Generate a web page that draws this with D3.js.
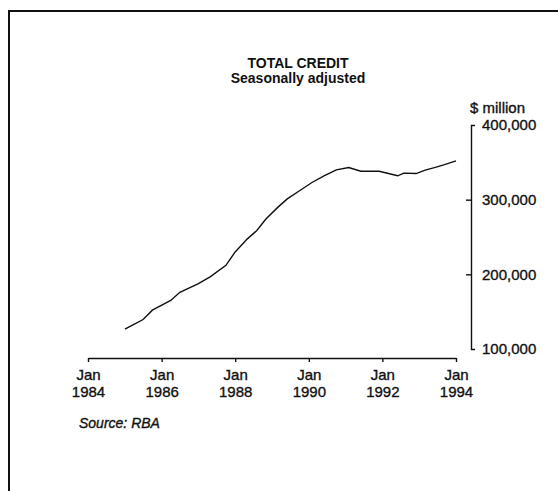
<!DOCTYPE html>
<html lang="en">
    <head>
        <meta charset="UTF-8"/>
        <title>Total Credit</title>
        <script src="https://d3js.org/d3.v7.min.js"></script>
        <style>
            body { margin: 0; background: #fff; }
            text { font-family: "Liberation Sans", Arial, sans-serif; fill: #111; }
            .heavy { stroke: #111; stroke-width: 0.35px; }
        </style>
    </head>

    <body>
        <script>
        var w = 558;
        var h = 491;

        // monthly readings, $ million
        var months = ["1985-01","1985-04","1985-07","1985-10","1986-04","1986-07","1987-01","1987-05",
                      "1987-10","1988-01","1988-05","1988-08","1988-11","1989-03","1989-06","1989-10",
                      "1990-02","1990-06","1990-10","1991-02","1991-06","1991-12","1992-04","1992-06",
                      "1992-08","1992-12","1993-03","1993-06","1993-09","1994-01"];
        var credit = [126700,133000,139500,152000,165000,176000,187500,197000,
                      212000,230000,247500,258500,274000,290000,301000,312000,
                      323000,332000,340000,343000,338000,338000,334000,332000,
                      335500,335000,339500,343000,346500,352000];

        var xTicks = ["1984-01","1986-01","1988-01","1990-01","1992-01","1994-01"];
        var yTicks = [100000, 200000, 300000, 400000];

        var parse = d3.timeParse("%Y-%m");
        var dataset = months.map(function(m, i) { return [parse(m), credit[i]]; });

        var xScale = d3.scaleTime()
                        .domain([parse("1984-01"), parse("1994-01")])
                        .range([88, 456]);

        var yScale = d3.scaleLinear()
                        .domain([100000, 400000])
                        .range([349, 125]);

        var svg = d3.select("body")
                    .append("svg")
                    .attr("width", w)
                    .attr("height", h);

        /* frame */
        svg.append("path")
            .attr("d", "M9,491V11H558")
            .attr("fill", "none")
            .attr("stroke", "#111")
            .attr("stroke-width", 2);

        /* titles */
        svg.append("text")
            .attr("x", 298).attr("y", 68)
            .attr("text-anchor", "middle")
            .attr("font-size", "14px")
            .attr("font-weight", "bold")
            .text("TOTAL CREDIT");

        svg.append("text")
            .attr("x", 298).attr("y", 83)
            .attr("text-anchor", "middle")
            .attr("font-size", "14px")
            .attr("font-weight", "bold")
            .text("Seasonally adjusted");

        svg.append("text")
            .attr("class", "heavy")
            .attr("x", 470).attr("y", 113)
            .attr("font-size", "15px")
            .text("$ million");

        /* X axis */
        var xAxis = d3.axisBottom(xScale)
                        .tickValues(xTicks.map(parse))
                        .tickSize(4)
                        .tickSizeOuter(0)
                        .tickFormat("");

        var gx = svg.append("g")
            .attr("transform", "translate(0,358)")
            .call(xAxis);

        gx.selectAll("path, line").attr("stroke", "#111").attr("stroke-width", 1.4);

        gx.selectAll(".tick").each(function(d) {
            var t = d3.select(this).append("text")
                .attr("class", "heavy")
                .attr("text-anchor", "middle")
                .attr("font-size", "15px")
                .attr("fill", "#111");
            t.append("tspan").attr("x", 0).attr("y", 22).text("Jan");
            t.append("tspan").attr("x", 0).attr("y", 39).text(d3.timeFormat("%Y")(d));
        });

        /* Y axis */
        var yAxis = d3.axisRight(yScale)
                        .tickValues(yTicks)
                        .tickSize(-5)
                        .tickSizeOuter(4)
                        .tickPadding(11)
                        .tickFormat(d3.format(","));

        var gy = svg.append("g")
            .attr("transform", "translate(471,0)")
            .call(yAxis);

        gy.selectAll("path, line").attr("stroke", "#111").attr("stroke-width", 1.4);
        gy.selectAll(".tick line").filter(function(d) { return d === 100000 || d === 400000; }).remove();
        gy.selectAll(".tick text")
            .attr("class", "heavy")
            .attr("font-size", "15px")
            .attr("font-family", null)
            .attr("fill", "#111");

        /* line */
        var line = d3.line()
                    .x(function(d) { return xScale(d[0]); })
                    .y(function(d) { return yScale(d[1]); });

        svg.append("path")
            .datum(dataset)
            .attr("d", line)
            .attr("fill", "none")
            .attr("stroke", "#111")
            .attr("stroke-width", 1.4);

        /* source */
        svg.append("text")
            .attr("class", "heavy")
            .attr("x", 79).attr("y", 428)
            .attr("font-size", "14px")
            .attr("font-style", "italic")
            .text("Source: RBA");
        </script>
    </body>
</html>
